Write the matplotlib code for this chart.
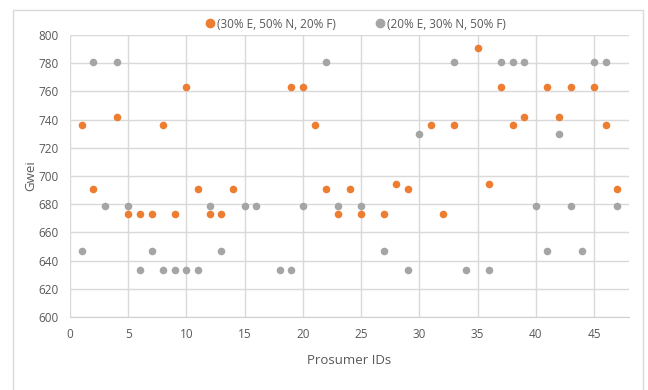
import matplotlib
matplotlib.use("Agg")
import matplotlib.pyplot as plt
from matplotlib.lines import Line2D
from matplotlib.patches import Rectangle

plt.rcParams['font.family'] = ['Open Sans', 'DejaVu Sans']

# Series A: (30% E, 50% N, 20% F)
ids_a = [1, 2, 4, 5, 6, 7, 8, 9, 10, 11, 12, 13, 14, 19, 20, 21, 22, 23, 24, 25,
         27, 28, 29, 31, 32, 33, 35, 36, 37, 38, 39, 41, 42, 43, 45, 46, 47]
gwei_a = [736, 691, 742, 673, 673, 673, 736, 673, 763, 691, 673, 673, 691, 763, 763, 736, 691, 673, 691, 673,
          673, 694, 691, 736, 673, 736, 791, 694, 763, 736, 742, 763, 742, 763, 763, 736, 691]

# Series B: (20% E, 30% N, 50% F)
ids_b = [1, 2, 3, 4, 5, 6, 7, 8, 9, 10, 11, 12, 13, 15, 16, 18, 19, 20, 22, 23,
         25, 27, 29, 30, 33, 34, 36, 37, 38, 39, 40, 41, 42, 43, 44, 45, 46, 47]
gwei_b = [647, 781, 679, 781, 679, 633, 647, 633, 633, 633, 633, 679, 647, 679, 679, 633, 633, 679, 781, 679,
          679, 647, 633, 730, 781, 633, 633, 781, 781, 781, 679, 647, 730, 679, 647, 781, 781, 679]

label_a = "(30% E, 50% N, 20% F)"
label_b = "(20% E, 30% N, 50% F)"
color_a = "#ED7D31"
color_b = "#A5A5A5"

x_ticks = [0, 5, 10, 15, 20, 25, 30, 35, 40, 45]
y_ticks = [600, 620, 640, 660, 680, 700, 720, 740, 760, 780, 800]

W, H = 648, 390
fig = plt.figure(figsize=(W / 100, H / 100), dpi=100)
ax = fig.add_axes([70 / W, 1 - 317 / H, (629 - 70) / W, (317 - 35) / H])

ax.scatter(ids_a, gwei_a, s=30, color=color_a, zorder=3, linewidths=0)
ax.scatter(ids_b, gwei_b, s=30, color=color_b, zorder=3, linewidths=0)

ax.set_xlim(0, 48)
ax.set_ylim(600, 800)
ax.set_xticks(x_ticks)
ax.set_yticks(y_ticks)
ax.grid(True, color="#D9D9D9", linewidth=1.0, zorder=0)
ax.set_axisbelow(True)
for side in ["top", "right", "left"]:
    ax.spines[side].set_visible(False)
ax.spines["bottom"].set_color("#D0D0D0")
ax.tick_params(length=0, labelsize=8.5, colors="#595959", pad=8)
ax.set_xlabel("Prosumer IDs", fontsize=9.5, color="#595959", labelpad=9)
ax.set_ylabel("Gwei", fontsize=9.5, color="#595959", labelpad=1)

handles = [
    Line2D([], [], marker="o", linestyle="none", markersize=6, color=color_a, label=label_a),
    Line2D([], [], marker="o", linestyle="none", markersize=6, color=color_b, label=label_b),
]
leg = fig.legend(handles=handles, loc="center", bbox_to_anchor=(355 / W, 1 - 24 / H),
                 ncol=2, frameon=False, fontsize=8.5, handletextpad=0.1, columnspacing=3.2,
                 handlelength=1.0)
for t in leg.get_texts():
    t.set_color("#595959")

# chart frame
fig.patches.append(Rectangle((13 / W, -0.05), (643 - 13) / W, 1.05 - 10 / H,
                             transform=fig.transFigure, fill=False,
                             edgecolor="#D9D9D9", linewidth=1.0))

fig.savefig("out.png", dpi=100)
